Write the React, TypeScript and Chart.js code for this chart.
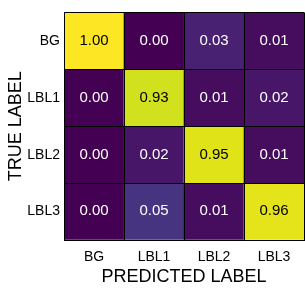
import React, { useEffect, useRef } from "react";
import { Chart, registerables } from "chart.js";

Chart.register(...registerables);

const predictedLabels = ["BG", "LBL1", "LBL2", "LBL3"];
const trueLabels = ["BG", "LBL1", "LBL2", "LBL3"];
const rowBG = [1.0, 0.0, 0.03, 0.01];
const rowLBL1 = [0.0, 0.93, 0.01, 0.02];
const rowLBL2 = [0.0, 0.02, 0.95, 0.01];
const rowLBL3 = [0.0, 0.05, 0.01, 0.96];
const matrix = [rowBG, rowLBL1, rowLBL2, rowLBL3];

const viridisStops: [number, string][] = [
  [0.0, "#440154"],
  [0.05, "#471365"],
  [0.1, "#482475"],
  [0.15, "#463480"],
  [0.2, "#414487"],
  [0.3, "#355f8d"],
  [0.4, "#2a788e"],
  [0.5, "#21918c"],
  [0.6, "#22a884"],
  [0.7, "#44bf70"],
  [0.8, "#7ad151"],
  [0.9, "#bddf26"],
  [0.95, "#dfe318"],
  [1.0, "#fde725"],
];

function hexToRgb(h: string) {
  return [parseInt(h.slice(1, 3), 16), parseInt(h.slice(3, 5), 16), parseInt(h.slice(5, 7), 16)];
}

function viridis(t: number) {
  t = Math.max(0, Math.min(1, t));
  for (let i = 0; i < viridisStops.length - 1; i++) {
    const [a, ca] = viridisStops[i];
    const [b, cb] = viridisStops[i + 1];
    if (t >= a && t <= b) {
      const f = (t - a) / (b - a);
      const A = hexToRgb(ca);
      const B = hexToRgb(cb);
      const c = A.map((v, k) => Math.round(v + (B[k] - v) * f));
      return `rgb(${c[0]},${c[1]},${c[2]})`;
    }
  }
  return viridisStops[viridisStops.length - 1][1];
}

function shade(v: number) {
  return viridis(v < 0.1 ? v * 3 : v);
}

const valueLabels = {
  id: "valueLabels",
  afterDatasetsDraw(chart: any) {
    const ctx = chart.ctx;
    ctx.save();
    ctx.font = '15px "Liberation Sans", Arial, sans-serif';
    ctx.textAlign = "center";
    ctx.textBaseline = "middle";
    chart.data.datasets.forEach((ds: any, di: number) => {
      const meta = chart.getDatasetMeta(di);
      meta.data.forEach((el: any, i: number) => {
        const v = matrix[di][i];
        ctx.fillStyle = v > 0.5 ? "#000000" : "#ffffff";
        ctx.fillText(v.toFixed(2), el.x, (el.y + el.base) / 2);
      });
    });
    ctx.restore();
  },
};

export default function App() {
  const ref = useRef<HTMLCanvasElement>(null);
  useEffect(() => {
    document.body.style.margin = "0";
    Chart.defaults.font.family = '"Liberation Sans", Arial, sans-serif';
    const n = trueLabels.length;
    const chart = new Chart(ref.current!, {
      type: "bar",
      data: {
        labels: predictedLabels,
        datasets: matrix.map((row, r) => ({
          label: trueLabels[r],
          data: row.map(() => [n - 1 - r, n - r]) as any,
          backgroundColor: row.map((v) => shade(v)),
          borderWidth: 0,
          barPercentage: 1,
          categoryPercentage: 1,
          grouped: false,
        })),
      },
      plugins: [valueLabels],
      options: {
        animation: false,
        responsive: true,
        maintainAspectRatio: false,
        layout: { padding: { top: 0, right: 1, bottom: 0, left: 0 } },
        plugins: { legend: { display: false }, tooltip: { enabled: false } },
        scales: {
          x: {
            type: "category",
            position: "bottom",
            grid: { display: true, color: "#000000", offset: true, drawTicks: false, lineWidth: 1, z: 1 },
            border: { display: true, color: "#000000", width: 1, z: 2 },
            ticks: { color: "#000000", font: { size: 14 }, padding: 9, autoSkip: false, maxRotation: 0 },
            title: {
              display: true,
              text: "PREDICTED LABEL",
              color: "#000000",
              font: { size: 18 },
              padding: { top: 0, bottom: 4 },
            },
            afterFit: (s: any) => {
              s.height = 52;
            },
          },
          y: {
            type: "linear",
            min: 0,
            max: n,
            afterBuildTicks: (s: any) => {
              const t = [];
              for (let k = 0; k <= n * 2; k++) t.push({ value: k / 2 });
              s.ticks = t;
            },
            grid: {
              display: true,
              drawTicks: false,
              lineWidth: 1,
              z: 1,
              color: (c: any) => (c.tick && c.tick.value % 1 === 0 ? "#000000" : "rgba(0,0,0,0)"),
            },
            border: { display: true, color: "#000000", width: 1, z: 2 },
            ticks: {
              color: "#000000",
              font: { size: 14 },
              padding: 4,
              autoSkip: false,
              callback: (v: any) => {
                const num = Number(v);
                if (num % 1 === 0) return "";
                return trueLabels[n - 1 - Math.floor(num)];
              },
            },
            title: {
              display: true,
              text: "TRUE LABEL",
              color: "#000000",
              font: { size: 18 },
              padding: { top: 5, bottom: 0 },
            },
            afterFit: (s: any) => {
              s.width = 64;
            },
          },
        },
      },
    });
    return () => chart.destroy();
  }, []);
  return (
    <div style={{ width: 305, height: 292, position: "relative" }}>
      <canvas ref={ref} />
    </div>
  );
}
